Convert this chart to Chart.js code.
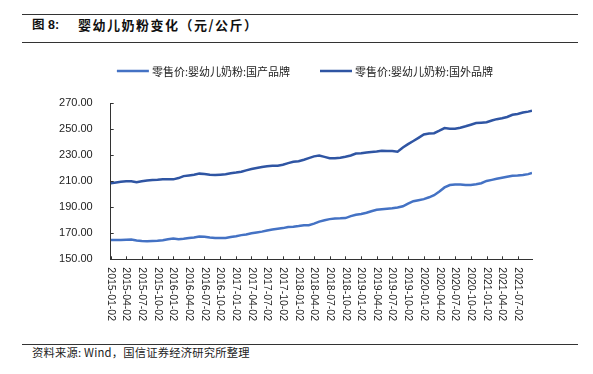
<!DOCTYPE html>
<html>
<head>
<meta charset="utf-8">
<script src="https://cdn.jsdelivr.net/npm/chart.js@4.4.1/dist/chart.umd.min.js"></script>
<style>
  html, body { margin: 0; padding: 0; background: #fff; }
  #wrap { position: relative; width: 593px; height: 374px; overflow: hidden; font-family: "Liberation Sans", "Noto Sans CJK SC", sans-serif; }
  .rule { position: absolute; left: 22px; width: 556px; height: 1.5px; background: #333; }
  .t { position: absolute; white-space: nowrap; color: #111; }
  #cv { position: absolute; left: 0; top: 0; }
</style>
</head>
<body>
<div id="wrap">
  <div class="rule" style="top:13.5px"></div>
  <div class="t" style="left:32px; top:16.5px; font-size:12.5px; font-weight:bold; line-height:17px;">图 8:</div>
  <div class="t" style="left:78px; top:16px; font-size:13px; font-weight:bold; line-height:17px; letter-spacing:1.5px; font-family:'Noto Sans CJK SC', sans-serif;">婴幼儿奶粉变化（元/公斤）</div>
  <div class="rule" style="top:41.5px"></div>
  <canvas id="cv" width="593" height="340"></canvas>
  <div class="rule" style="top:344px; height:1px;"></div>
  <div class="t" style="left:32px; top:345px; font-size:11.3px; line-height:14px; letter-spacing:0.2px; color:#222; font-family:'Noto Sans CJK SC', sans-serif;">资料来源: Wind，国信证券经济研究所整理</div>
</div>
<script>
// ---- data ----
const dates = [
  "2015-01-02","2015-02-02","2015-03-02","2015-04-02","2015-05-02","2015-06-02","2015-07-02","2015-08-02","2015-09-02","2015-10-02","2015-11-02","2015-12-02",
  "2016-01-02","2016-02-02","2016-03-02","2016-04-02","2016-05-02","2016-06-02","2016-07-02","2016-08-02","2016-09-02","2016-10-02","2016-11-02","2016-12-02",
  "2017-01-02","2017-02-02","2017-03-02","2017-04-02","2017-05-02","2017-06-02","2017-07-02","2017-08-02","2017-09-02","2017-10-02","2017-11-02","2017-12-02",
  "2018-01-02","2018-02-02","2018-03-02","2018-04-02","2018-05-02","2018-06-02","2018-07-02","2018-08-02","2018-09-02","2018-10-02","2018-11-02","2018-12-02",
  "2019-01-02","2019-02-02","2019-03-02","2019-04-02","2019-05-02","2019-06-02","2019-07-02","2019-08-02","2019-09-02","2019-10-02","2019-11-02","2019-12-02",
  "2020-01-02","2020-02-02","2020-03-02","2020-04-02","2020-05-02","2020-06-02","2020-07-02","2020-08-02","2020-09-02","2020-10-02","2020-11-02","2020-12-02",
  "2021-01-02","2021-02-02","2021-03-02","2021-04-02","2021-05-02","2021-06-02","2021-07-02","2021-08-02","2021-09-02","2021-09-24"
];
const domesticPrice = [
  164.8,164.8,164.8,165.1,165.2,164.5,164.0,163.8,164.0,164.2,164.7,165.4,
  166.0,165.5,165.8,166.4,166.7,167.6,167.4,166.8,166.4,166.3,166.4,167.1,
  167.8,168.6,169.1,170.0,170.6,171.3,172.1,172.9,173.5,174.0,174.9,175.1,
  175.6,176.2,176.2,177.4,179.0,180.1,180.9,181.4,181.5,181.7,183.2,184.2,
  184.9,185.8,187.0,188.1,188.5,188.9,189.2,189.8,190.8,192.9,194.7,195.5,
  196.3,197.7,199.3,202.2,205.3,207.1,207.6,207.5,207.2,207.2,207.8,208.5,
  210.3,211.1,211.9,212.7,213.5,214.3,214.5,214.8,215.5,216.4
];
const foreignPrice = [
  208.5,209.1,209.6,210.0,210.0,209.2,210.0,210.6,211.0,211.2,211.5,211.5,
  211.5,212.5,214.0,214.5,215.0,215.9,215.6,215.0,214.8,215.1,215.5,216.2,
  216.7,217.3,218.4,219.4,220.2,221.0,221.6,222.0,222.0,222.7,224.0,225.0,
  225.4,226.6,227.8,229.2,229.9,228.8,227.7,227.7,228.2,228.9,229.9,231.4,
  231.5,232.2,232.6,232.9,233.5,233.3,233.3,232.8,236.0,238.6,241.0,243.4,
  246.0,246.7,247.0,248.9,250.9,250.5,250.4,251.2,252.3,253.5,254.8,255.1,
  255.5,256.8,257.8,258.5,259.5,261.2,261.8,262.9,263.6,264.3
];
const seriesNames = ["零售价:婴幼儿奶粉:国产品牌", "零售价:婴幼儿奶粉:国外品牌"];
const tickLabels = [
  "2015-01-02","2015-04-02","2015-07-02","2015-10-02","2016-01-02","2016-04-02","2016-07-02","2016-10-02",
  "2017-01-02","2017-04-02","2017-07-02","2017-10-02","2018-01-02","2018-04-02","2018-07-02","2018-10-02",
  "2019-01-02","2019-04-02","2019-07-02","2019-10-02","2020-01-02","2020-04-02","2020-07-02","2020-10-02",
  "2021-01-02","2021-04-02","2021-07-02"
];
const yMin = 150, yMax = 270, yStep = 20;

// ---- helpers ----
function dayNum(s) { const p = s.split("-").map(Number); return Date.UTC(p[0], p[1]-1, p[2]) / 86400000; }
const dayToLabel = {};
tickLabels.forEach(t => { dayToLabel[dayNum(t)] = t; });
function pts(vals) { return dates.map((d, i) => ({ x: dayNum(d), y: vals[i] })); }

const colors = ["#4472C4", "#2F55A3"];
const LBL_FONT = '10.5px "Liberation Sans", Arial, sans-serif';

const decor = {
  id: 'decor',
  afterDraw(chart) {
    const ctx = chart.ctx;
    const xs = chart.scales.x, ys = chart.scales.y;
    const ca = chart.chartArea;
    ctx.save();
    // inward tick marks
    ctx.strokeStyle = '#333';
    ctx.lineWidth = 1;
    ctx.beginPath();
    xs.ticks.forEach(t => {
      const px = Math.round(xs.getPixelForValue(t.value)) + 0.5;
      ctx.moveTo(px, ca.bottom); ctx.lineTo(px, ca.bottom - 3);
    });
    ys.ticks.forEach(t => {
      const py = Math.round(ys.getPixelForValue(t.value)) + 0.5;
      ctx.moveTo(ca.left, py); ctx.lineTo(ca.left + 3, py);
    });
    ctx.stroke();
    // rotated x labels (reading top to bottom)
    ctx.fillStyle = '#222';
    ctx.font = LBL_FONT;
    ctx.textAlign = 'left';
    ctx.textBaseline = 'middle';
    xs.ticks.forEach(t => {
      const px = xs.getPixelForValue(t.value);
      ctx.save();
      ctx.translate(px, ca.bottom + 8);
      ctx.rotate(Math.PI / 2);
      ctx.fillText(dayToLabel[t.value] || '', 0, 0);
      ctx.restore();
    });
    // legend
    ctx.font = '11px "Noto Sans CJK SC", sans-serif';
    ctx.textBaseline = 'middle';
    const lineLen = 32, gap = 3, itemGap = 30, ly = 71;
    const items = chart.data.datasets.map(ds => ({ text: ds.label, color: ds.borderColor, w: ctx.measureText(ds.label).width }));
    let total = items.reduce((s, it) => s + lineLen + gap + it.w, 0) + itemGap * (items.length - 1);
    let x = 305 - total / 2;
    items.forEach(it => {
      ctx.strokeStyle = it.color;
      ctx.lineWidth = 2.5;
      ctx.beginPath(); ctx.moveTo(x, ly); ctx.lineTo(x + lineLen, ly); ctx.stroke();
      ctx.fillStyle = '#222';
      ctx.fillText(it.text, x + lineLen + gap, ly + 0.5);
      x += lineLen + gap + it.w + itemGap;
    });
    ctx.restore();
  }
};

new Chart(document.getElementById('cv'), {
  type: 'line',
  data: {
    datasets: [
      { label: seriesNames[0], data: pts(domesticPrice), borderColor: colors[0], backgroundColor: colors[0], borderWidth: 2.5, pointRadius: 0, tension: 0 },
      { label: seriesNames[1], data: pts(foreignPrice), borderColor: colors[1], backgroundColor: colors[1], borderWidth: 2.5, pointRadius: 0, tension: 0 }
    ]
  },
  options: {
    responsive: false,
    animation: false,
    layout: { padding: { top: 103.3, right: 61, bottom: 0, left: 0 } },
    plugins: { legend: { display: false }, tooltip: { enabled: false }, title: { display: false } },
    scales: {
      x: {
        type: 'linear',
        min: dayNum(dates[0]),
        max: dayNum(dates[dates.length - 1]),
        afterBuildTicks: s => { s.ticks = tickLabels.map(t => ({ value: dayNum(t) })); },
        afterFit: s => { s.height = 80.7; },
        ticks: { display: false },
        grid: { display: false },
        border: { display: true, color: '#333', width: 1 }
      },
      y: {
        min: yMin, max: yMax,
        afterFit: s => { s.width = 110.7; },
        ticks: { stepSize: yStep, padding: 10, color: '#222', font: { family: '"Liberation Sans", Arial, sans-serif', size: 11 }, callback: v => Number(v).toFixed(2) },
        grid: { display: false },
        border: { display: true, color: '#333', width: 1 }
      }
    }
  },
  plugins: [decor]
});
</script>
</body>
</html>
